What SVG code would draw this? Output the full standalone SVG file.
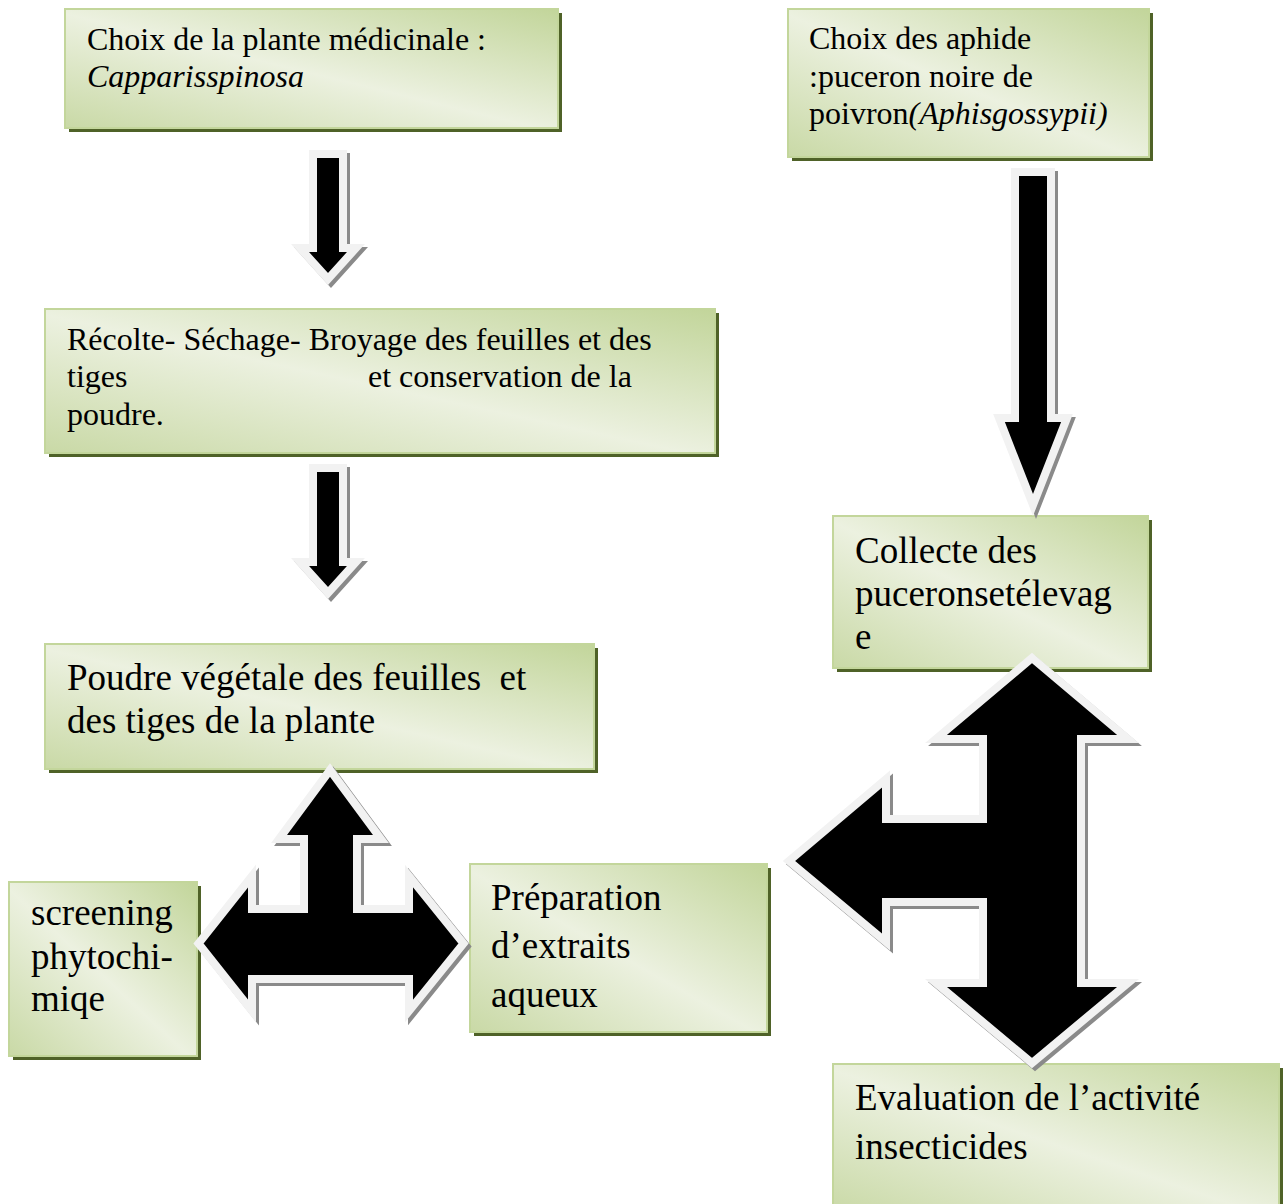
<svg xmlns="http://www.w3.org/2000/svg" width="1286" height="1204" viewBox="0 0 1286 1204">
<defs>
<linearGradient id="g" x1="1" y1="0" x2="0" y2="1">
<stop offset="0" stop-color="#c2d59a"/>
<stop offset="0.52" stop-color="#ecf1e0"/>
<stop offset="1" stop-color="#c9d9a6"/>
</linearGradient>
<style>
.sh{fill:#4f6228}
.bx{fill:url(#g);stroke:#c3d69b;stroke-width:2}
text{font-family:"Liberation Serif","Times New Roman",serif;fill:#000}
.s{font-size:32px}
.l{font-size:37px}
.ash{fill:#8a8a8a;stroke:#8a8a8a;stroke-width:8;stroke-linejoin:miter;stroke-miterlimit:10}
.ar{fill:#000;stroke:#f2f2f2;stroke-width:8;stroke-linejoin:miter;stroke-miterlimit:10}
</style>
<path id="a1" d="M313,154 H343 V248 H356 L328,279 L300,248 H313 Z"/>
<path id="a3" d="M1015,172 H1051 V418 H1067 L1033,505 L999,418 H1015 Z"/>
<path id="a4" d="M330,770 L381,839 H357 V909 H409 V876 L463.5,943.5 L409,1011 V979 H252 V1011 L198.5,943.5 L252,876 V909 H304 V839 H279 Z"/>
<path id="a5" d="M1032,658 L1128,739 H1081 V983 H1128 L1032,1063 L936,983 H983 V902 H886 V942 L789,861 L886,779 V819 H983 V739 H936 Z"/>
</defs>
<rect width="1286" height="1204" fill="#fff"/>
<g id="nodes">
<g id="n1">
<rect class="sh" x="69" y="13" width="493" height="119"/>
<rect class="bx" x="65" y="9" width="493" height="119"/>
<text class="s" x="87" y="50">Choix de la plante médicinale :</text>
<text class="s" x="87" y="87" font-style="italic">Capparisspinosa</text>
</g>
<g id="n2">
<rect class="sh" x="792" y="13" width="361" height="148"/>
<rect class="bx" x="788" y="9" width="361" height="148"/>
<text class="s" x="809" y="49">Choix des aphide</text>
<text class="s" x="809" y="87">:puceron noire de</text>
<text class="s" x="809" y="124">poivron<tspan font-style="italic">(Aphisgossypii)</tspan></text>
</g>
<g id="n3">
<rect class="sh" x="49" y="313" width="670" height="144"/>
<rect class="bx" x="45" y="309" width="670" height="144"/>
<text class="s" x="67" y="350">Récolte- Séchage- Broyage des feuilles et des</text>
<text class="s" x="67" y="387">tiges</text>
<text class="s" x="368" y="387">et conservation de la</text>
<text class="s" x="67" y="425">poudre.</text>
</g>
<g id="n4">
<rect class="sh" x="49" y="648" width="549" height="125"/>
<rect class="bx" x="45" y="644" width="549" height="125"/>
<text class="l" x="67" y="690" xml:space="preserve">Poudre végétale des feuilles  et</text>
<text class="l" x="67" y="733">des tiges de la plante</text>
</g>
<g id="n5">
<rect class="sh" x="13" y="886" width="188" height="174"/>
<rect class="bx" x="9" y="882" width="188" height="174"/>
<text class="l" x="31" y="925">screening</text>
<text class="l" x="31" y="969">phytochi-</text>
<text class="l" x="31" y="1011">miqe</text>
</g>
<g id="n6">
<rect class="sh" x="474" y="868" width="297" height="168"/>
<rect class="bx" x="470" y="864" width="297" height="168"/>
<text class="l" x="491" y="910">Préparation</text>
<text class="l" x="491" y="958">d’extraits</text>
<text class="l" x="491" y="1007">aqueux</text>
</g>
<g id="n7">
<rect class="sh" x="837" y="520" width="315" height="152"/>
<rect class="bx" x="833" y="516" width="315" height="152"/>
<text class="l" x="855" y="563">Collecte des</text>
<text class="l" x="855" y="606">puceronsetélevag</text>
<text class="l" x="855" y="649">e</text>
</g>
<g id="n8">
<rect class="sh" x="837" y="1068" width="446" height="150"/>
<rect class="bx" x="833" y="1064" width="446" height="150"/>
<text class="l" x="855" y="1110">Evaluation de l’activité</text>
<text class="l" x="855" y="1159">insecticides</text>
</g>
</g>
<g id="connectors">
<use href="#a1" class="ash" transform="translate(3,3)"/>
<use href="#a1" class="ar"/>
<use href="#a1" class="ash" transform="translate(3,317)"/>
<use href="#a1" class="ar" transform="translate(0,314)"/>
<use href="#a3" class="ash" transform="translate(3,3)"/>
<use href="#a3" class="ar"/>
<use href="#a4" class="ash" transform="translate(3,3)"/>
<use href="#a4" class="ar"/>
<use href="#a5" class="ash" transform="translate(3,3)"/>
<use href="#a5" class="ar"/>
</g>
</svg>
